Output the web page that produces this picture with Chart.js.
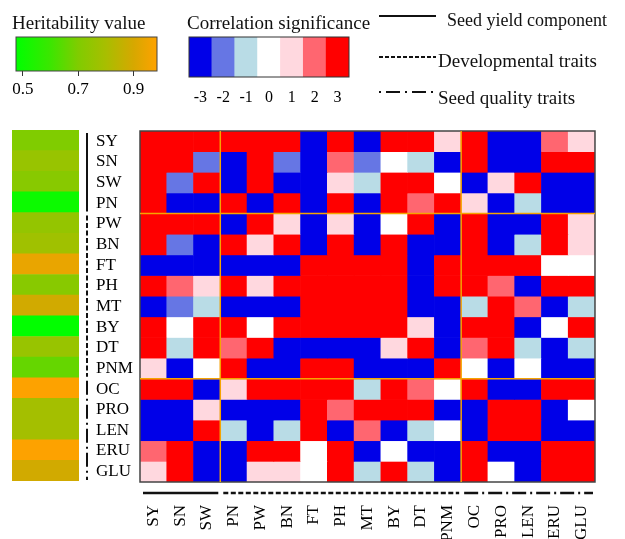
<!DOCTYPE html>
<html lang="en">
<head>
<meta charset="UTF-8">
<title>Trait correlation significance</title>
<script src="https://cdn.jsdelivr.net/npm/chart.js"></script>
<style>
    body {
        margin: 0;
        width: 625px;
        height: 539px;
        overflow: hidden;
        background: #fff;
        position: relative;
        font-family: "Liberation Serif", "Times New Roman", serif;
        color: #111;
    }
    canvas, .txt, svg { position: absolute; }
    .txt { white-space: nowrap; font-size: 19px; line-height: 1; }
</style>
</head>
<body>
<canvas id="main" width="625" height="560" style="left:0;top:0"></canvas>
<canvas id="herit" width="92" height="539" style="left:0;top:0"></canvas>
<canvas id="heritKey" width="175" height="75" style="left:0;top:30px"></canvas>
<canvas id="corrKey" width="180" height="80" style="left:180px;top:30px"></canvas>

<div class="txt" style="left:12px;top:13px">Heritability value</div>
<div class="txt" style="left:187px;top:13px">Correlation significance</div>

<!-- legende des groupes de traits -->
<svg width="66" height="100" style="left:376px;top:4px">
    <line x1="3" y1="12" x2="60" y2="12" stroke="#111" stroke-width="2"/>
    <line x1="3" y1="53" x2="60" y2="53" stroke="#111" stroke-width="2" stroke-dasharray="4 2"/>
    <line x1="3" y1="88" x2="60" y2="88" stroke="#111" stroke-width="2" stroke-dasharray="2 5 14 5"/>
</svg>
<div class="txt" style="left:447px;top:11px;font-size:18px">Seed yield component</div>
<div class="txt" style="left:438px;top:51px">Developmental traits</div>
<div class="txt" style="left:438px;top:88px">Seed quality traits</div>

<script>
    // traits (lignes = colonnes)
    const traits = ['SY', 'SN', 'SW', 'PN', 'PW', 'BN', 'FT', 'PH', 'MT', 'BY', 'DT', 'PNM', 'OC', 'PRO', 'LEN', 'ERU', 'GLU'];

    // niveau de signification (-3 .. 3), une ligne par trait
    const significance = [
        [ 3,  3,  3,  3,  3,  3, -3,  3, -3,  3,  3,  1,  3, -3, -3,  2,  1],
        [ 3,  3, -2, -3,  3, -2, -3,  2, -2,  0, -1, -3,  3, -3, -3,  3,  3],
        [ 3, -2,  3, -3,  3, -3, -3,  1, -1,  3,  3,  0, -3,  1,  3, -3, -3],
        [ 3, -3, -3,  3, -3,  3, -3,  3, -3,  3,  2,  3,  1, -3, -1, -3, -3],
        [ 3,  3,  3, -3,  3,  1, -3,  1, -3,  0,  3, -3,  3, -3, -3,  3,  1],
        [ 3, -2, -3,  3,  1,  3, -3,  3, -3,  3, -3, -3,  3, -3, -1,  3,  1],
        [-3, -3, -3, -3, -3, -3,  3,  3,  3,  3, -3,  3,  3,  3,  3,  0,  0],
        [ 3,  2,  1,  3,  1,  3,  3,  3,  3,  3, -3,  3,  3,  2, -3,  3,  3],
        [-3, -2, -1, -3, -3, -3,  3,  3,  3,  3, -3, -3, -1,  3,  2, -3, -1],
        [ 3,  0,  3,  3,  0,  3,  3,  3,  3,  3,  1, -3,  3,  3, -3,  0,  3],
        [ 3, -1,  3,  2,  3, -3, -3, -3, -3,  1,  3, -3,  2,  3, -1, -3, -1],
        [ 1, -3,  0,  3, -3, -3,  3,  3, -3, -3, -3,  3,  0, -3,  0, -3, -3],
        [ 3,  3, -3,  1,  3,  3,  3,  3, -1,  3,  2,  0,  3, -3, -3,  3,  3],
        [-3, -3,  1, -3, -3, -3,  3,  2,  3,  3,  3, -3, -3,  3,  3, -3,  0],
        [-3, -3,  3, -1, -3, -1,  3, -3,  2, -3, -1,  0, -3,  3,  3, -3, -3],
        [ 2,  3, -3, -3,  3,  3,  0,  3, -3,  0, -3, -3,  3, -3, -3,  3,  3],
        [ 1,  3, -3, -3,  1,  1,  0,  3, -1,  3, -1, -3,  3,  0, -3,  3,  3]
    ];

    // heritabilite par trait
    const heritability = [0.70, 0.76, 0.72, 0.50, 0.75, 0.78, 0.94, 0.72, 0.89, 0.48, 0.76, 0.66, 0.98, 0.79, 0.79, 0.98, 0.89];

    const levels = [-3, -2, -1, 0, 1, 2, 3];
    const heritRange = [0.475, 0.985];
    const heritTicks = [0.5, 0.7, 0.9];

    // separations oranges et groupes de traits (indices de fin)
    const colSplits = [3, 12];
    const rowSplits = [4, 12];
    const colGroupEnds = [3, 12, 17];
    const rowGroupEnds = [4, 12, 17];

    const levelColors = {
        '-3': '#0000e8', '-2': '#6676e4', '-1': '#b9dce6', '0': '#ffffff',
        '1': '#ffd8df', '2': '#ff6670', '3': '#ff0000'
    };
    const heritStops = [
        [0.475, [0, 255, 0]], [0.6, [60, 230, 0]], [0.7, [128, 204, 0]],
        [0.8, [168, 190, 0]], [0.9, [214, 168, 0]], [0.985, [255, 162, 0]]
    ];
    const dashes = [[], [5, 2.5], [14, 4, 2, 4]];
    const serif = { family: '"Liberation Serif", "Times New Roman", serif', size: 17 };

    function heritColor(v) {
        for (let i = 1; i < heritStops.length; i++) {
            const [v1, c1] = heritStops[i];
            const [v0, c0] = heritStops[i - 1];
            if (v <= v1 || i === heritStops.length - 1) {
                const t = Math.max(0, Math.min(1, (v - v0) / (v1 - v0)));
                const c = c0.map((a, k) => Math.round(a + (c1[k] - a) * t));
                return `rgb(${c[0]},${c[1]},${c[2]})`;
            }
        }
    }

    // cadre autour de la zone de tracé
    const frame = {
        id: 'frame',
        afterDatasetsDraw(chart, args, opts) {
            const { ctx, chartArea: a } = chart;
            ctx.save();
            ctx.strokeStyle = opts.color || '#333';
            ctx.lineWidth = opts.width || 1;
            ctx.strokeRect(a.left, a.top, a.right - a.left, a.bottom - a.top);
            ctx.restore();
        }
    };

    // lignes oranges + traits de groupes
    const gridMarks = {
        id: 'gridMarks',
        afterDatasetsDraw(chart) {
            const { ctx, chartArea: a, scales: { x, y } } = chart;
            const colEdge = c => c <= 0 ? a.left : c >= traits.length ? a.right
                : (x.getPixelForValue(c - 1) + x.getPixelForValue(c)) / 2;
            ctx.save();
            ctx.strokeStyle = '#f5a400';
            ctx.lineWidth = 1.5;
            colSplits.forEach(c => {
                const px = colEdge(c);
                ctx.beginPath(); ctx.moveTo(px, a.top); ctx.lineTo(px, a.bottom); ctx.stroke();
            });
            rowSplits.forEach(r => {
                const py = y.getPixelForValue(r);
                ctx.beginPath(); ctx.moveTo(a.left, py); ctx.lineTo(a.right, py); ctx.stroke();
            });

            ctx.strokeStyle = '#111';
            ctx.lineWidth = 2;
            let start = 0;
            rowGroupEnds.forEach((end, g) => {
                ctx.setLineDash(dashes[g]);
                const lx = a.left - 53;
                ctx.beginPath();
                ctx.moveTo(lx, y.getPixelForValue(start) + 2);
                ctx.lineTo(lx, y.getPixelForValue(end) - 2);
                ctx.stroke();
                start = end;
            });
            start = 0;
            ctx.lineWidth = 2.5;
            colGroupEnds.forEach((end, g) => {
                ctx.setLineDash(dashes[g]);
                const ly = a.bottom + 11;
                ctx.beginPath();
                ctx.moveTo(colEdge(start) + 3, ly);
                ctx.lineTo(colEdge(end) - 2, ly);
                ctx.stroke();
                start = end;
            });
            ctx.restore();
        }
    };

    const noLegend = { legend: { display: false }, tooltip: { enabled: false } };

    // carte de chaleur principale
    new Chart(document.getElementById('main'), {
        type: 'bar',
        data: {
            labels: traits,
            datasets: traits.map((t, r) => ({
                label: t,
                data: traits.map(() => [r, r + 1]),
                backgroundColor: significance[r].map(v => levelColors[v]),
                borderWidth: 0,
                grouped: false,
                barPercentage: 1,
                categoryPercentage: 1
            }))
        },
        options: {
            responsive: false,
            animation: false,
            layout: { padding: { left: 96, top: 131, right: 0, bottom: 0 } },
            plugins: { ...noLegend, frame: { color: '#444', width: 1.5 } },
            scales: {
                x: {
                    grid: { display: false, drawTicks: false },
                    border: { display: false },
                    afterFit: s => { s.height = 78; },
                    ticks: { autoSkip: false, minRotation: 90, maxRotation: 90, padding: 23, color: '#000', font: serif }
                },
                y: {
                    type: 'linear', min: 0, max: traits.length, reverse: true,
                    grid: { display: false, drawTicks: false },
                    border: { display: false },
                    afterBuildTicks: s => { s.ticks = traits.map((_, i) => ({ value: i + 0.5 })); },
                    afterFit: s => { s.width = 44; },
                    ticks: { autoSkip: false, crossAlign: 'far', padding: 0, color: '#000', font: serif,
                        callback: (v, i) => traits[i] }
                }
            }
        },
        plugins: [frame, gridMarks]
    });

    // colonne d'heritabilite
    new Chart(document.getElementById('herit'), {
        type: 'bar',
        data: {
            labels: traits,
            datasets: [{
                data: heritability.map(() => 1),
                backgroundColor: heritability.map(heritColor),
                borderWidth: 0,
                barPercentage: 1,
                categoryPercentage: 1
            }]
        },
        options: {
            indexAxis: 'y',
            responsive: false,
            animation: false,
            layout: { padding: { left: 12, right: 13, top: 130, bottom: 58 } },
            plugins: noLegend,
            scales: { x: { display: false, min: 0, max: 1 }, y: { display: false } }
        }
    });

    // legende heritabilite (degrade)
    new Chart(document.getElementById('heritKey'), {
        type: 'bar',
        data: {
            labels: ['h'],
            datasets: [{
                data: [heritRange],
                backgroundColor: c => {
                    const ch = c.chart;
                    if (!ch.chartArea) return null;
                    const x = ch.scales.x;
                    const g = ch.ctx.createLinearGradient(x.getPixelForValue(heritRange[0]), 0, x.getPixelForValue(heritRange[1]), 0);
                    heritStops.forEach(([v]) => {
                        g.addColorStop((v - heritRange[0]) / (heritRange[1] - heritRange[0]), heritColor(v));
                    });
                    return g;
                },
                borderWidth: 0,
                barPercentage: 1,
                categoryPercentage: 1
            }]
        },
        options: {
            indexAxis: 'y',
            responsive: false,
            animation: false,
            layout: { padding: { left: 16, right: 18, top: 7, bottom: 0 } },
            plugins: { ...noLegend, frame: { color: '#444', width: 1 } },
            scales: {
                x: {
                    type: 'linear', min: heritRange[0], max: heritRange[1],
                    grid: { drawOnChartArea: false, drawTicks: true, tickLength: 5, color: '#333' },
                    border: { display: false },
                    afterBuildTicks: s => { s.ticks = heritTicks.map(v => ({ value: v })); },
                    afterFit: s => { s.height = 34; },
                    ticks: { padding: 3, color: '#000', font: serif, callback: v => v.toFixed(1) }
                },
                y: { display: false }
            }
        },
        plugins: [frame]
    });

    // legende signification
    new Chart(document.getElementById('corrKey'), {
        type: 'bar',
        data: {
            labels: levels.map(String),
            datasets: [{
                data: levels.map(() => 1),
                backgroundColor: levels.map(v => levelColors[v]),
                borderWidth: 0,
                barPercentage: 1,
                categoryPercentage: 1
            }]
        },
        options: {
            responsive: false,
            animation: false,
            layout: { padding: { left: 9, right: 11, top: 7, bottom: 0 } },
            plugins: { ...noLegend, frame: { color: '#333', width: 1 } },
            scales: {
                x: {
                    grid: { display: false, drawTicks: false },
                    border: { display: false },
                    afterFit: s => { s.height = 33; },
                    ticks: { padding: 11, color: '#000', font: { ...serif, size: 16 } }
                },
                y: { display: false, min: 0, max: 1 }
            }
        },
        plugins: [frame]
    });
</script>
</body>
</html>
